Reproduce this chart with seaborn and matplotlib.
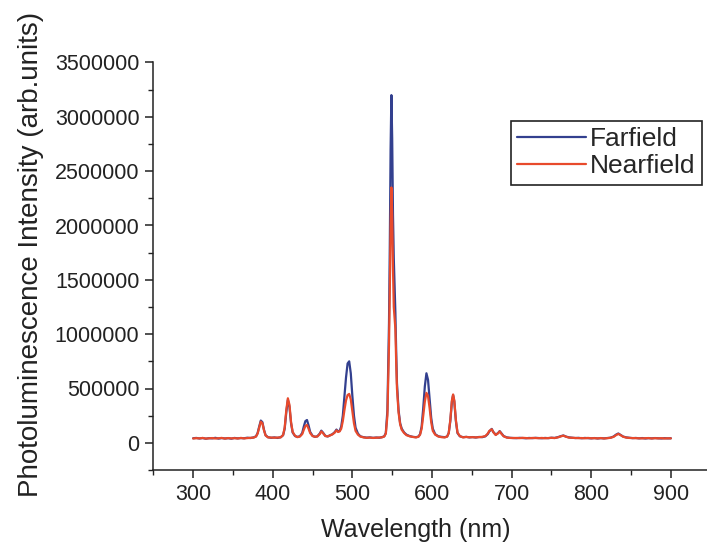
import matplotlib
matplotlib.use("Agg")
import matplotlib.pyplot as plt
import matplotlib.ticker as mticker
import pandas as pd
import seaborn as sns

# ---- data ----
wavelength = [
    300, 304, 308, 312, 316, 320, 324, 328, 332, 336, 340, 344, 348, 352, 356,
    360, 364, 368, 372, 376, 379, 381, 383, 385, 387, 389, 391, 394, 398, 402,
    406, 410, 413, 415, 417, 419, 421, 423, 425, 428, 431, 434, 437, 439, 441,
    443, 445, 447, 450, 453, 456, 459, 461, 463, 466, 469, 472, 475, 478, 480,
    482, 484, 486, 488, 490, 492, 494, 496, 498, 500, 502, 504, 507, 510, 514,
    518, 522, 526, 530, 534, 537, 540, 542, 544, 546, 547, 548, 549, 550, 551,
    552, 553, 554, 555, 556, 558, 560, 562, 565, 568, 572, 576, 580, 583, 585,
    587, 589, 591, 593, 595, 597, 599, 601, 604, 608, 612, 616, 619, 621, 623,
    625, 626.5, 628, 630, 632, 635, 639, 643, 647, 651, 655, 659, 663, 667, 670,
    672, 675, 677, 680, 683, 685, 687, 690, 694, 698, 702, 706, 710, 714, 718,
    722, 726, 730, 734, 738, 742, 746, 750, 754, 758, 762, 765, 768, 772, 776,
    780, 784, 788, 792, 796, 800, 804, 808, 812, 816, 820, 824, 828, 831, 834,
    837, 840, 844, 848, 852, 856, 860, 864, 868, 872, 876, 880, 884, 888, 892,
    896, 900,
]

farfield = [
    42000, 45000, 40000, 44000, 38000, 43000, 41000, 46000, 39000, 44000,
    40000, 43000, 38000, 45000, 41000, 44000, 42000, 47000, 44000, 50000,
    60000, 90000, 150000, 205000, 190000, 120000, 70000, 52000, 46000, 50000,
    45000, 52000, 70000, 130000, 280000, 395000, 330000, 180000, 95000, 62000,
    55000, 60000, 90000, 150000, 200000, 210000, 160000, 100000, 65000, 55000,
    60000, 85000, 112000, 95000, 65000, 58000, 70000, 80000, 100000, 122000,
    105000, 110000, 150000, 250000, 420000, 600000, 730000, 750000, 640000, 430000,
    250000, 140000, 85000, 60000, 52000, 48000, 50000, 46000, 49000, 47000,
    52000, 60000, 90000, 300000, 1100000, 1800000, 2700000, 3200000, 2800000, 2100000,
    1700000, 1450000, 1200000, 850000, 550000, 300000, 180000, 130000, 95000, 75000,
    62000, 55000, 52000, 58000, 80000, 150000, 320000, 520000, 640000, 580000,
    400000, 230000, 130000, 80000, 60000, 55000, 52000, 58000, 90000, 200000,
    380000, 440000, 380000, 200000, 90000, 60000, 52000, 55000, 50000, 53000,
    49000, 54000, 52000, 60000, 80000, 105000, 128000, 100000, 75000, 90000,
    108000, 90000, 62000, 50000, 46000, 45000, 43000, 46000, 44000, 42000,
    45000, 43000, 46000, 44000, 42000, 45000, 43000, 47000, 45000, 52000,
    62000, 68000, 58000, 50000, 47000, 44000, 46000, 42000, 45000, 43000,
    41000, 44000, 40000, 43000, 41000, 44000, 47000, 58000, 75000, 86000,
    72000, 58000, 50000, 46000, 43000, 45000, 41000, 44000, 40000, 43000,
    41000, 44000, 42000, 40000, 43000, 41000, 42000,
]

nearfield = [
    40000, 43000, 41000, 45000, 39000, 42000, 44000, 40000, 42000, 45000,
    39000, 44000, 41000, 43000, 40000, 45000, 41000, 44000, 46000, 48000,
    58000, 85000, 140000, 195000, 180000, 115000, 68000, 50000, 48000, 47000,
    49000, 50000, 72000, 140000, 300000, 410000, 350000, 190000, 100000, 65000,
    52000, 58000, 80000, 120000, 155000, 165000, 130000, 90000, 62000, 56000,
    58000, 80000, 105000, 90000, 62000, 60000, 68000, 78000, 95000, 115000,
    100000, 105000, 130000, 200000, 300000, 390000, 440000, 450000, 400000, 290000,
    180000, 110000, 75000, 58000, 50000, 46000, 48000, 45000, 47000, 48000,
    50000, 58000, 85000, 250000, 900000, 1400000, 2000000, 2350000, 2100000, 1600000,
    1250000, 1150000, 1050000, 750000, 500000, 280000, 170000, 120000, 90000, 70000,
    60000, 54000, 50000, 56000, 75000, 130000, 250000, 380000, 460000, 430000,
    320000, 190000, 110000, 75000, 58000, 52000, 50000, 57000, 90000, 210000,
    390000, 445000, 390000, 210000, 95000, 62000, 50000, 54000, 51000, 52000,
    50000, 53000, 55000, 62000, 85000, 110000, 125000, 98000, 72000, 88000,
    105000, 85000, 60000, 48000, 45000, 44000, 45000, 43000, 46000, 44000,
    42000, 45000, 44000, 43000, 45000, 42000, 44000, 46000, 44000, 50000,
    60000, 66000, 57000, 48000, 46000, 45000, 43000, 44000, 42000, 45000,
    42000, 43000, 41000, 44000, 40000, 43000, 46000, 55000, 70000, 82000,
    70000, 56000, 48000, 45000, 44000, 42000, 43000, 41000, 42000, 44000,
    40000, 43000, 41000, 43000, 40000, 42000, 41000,
]

series_names = ["Farfield", "Nearfield"]
series_colors = ["#33408f", "#e84a2c"]

x_ticks = [300, 400, 500, 600, 700, 800, 900]
y_ticks = [0, 500000, 1000000, 1500000, 2000000, 2500000, 3000000, 3500000]

# long-form table for seaborn
spectra = pd.concat(
    [
        pd.DataFrame({"wavelength": wavelength, "intensity": farfield, "series": "Farfield"}),
        pd.DataFrame({"wavelength": wavelength, "intensity": nearfield, "series": "Nearfield"}),
    ],
    ignore_index=True,
)

sns.set_style("ticks")
plt.rcParams["font.family"] = ["Liberation Sans", "DejaVu Sans"]

fig = plt.figure(figsize=(7.07, 5.52), dpi=100)
ax = fig.add_axes([153.3 / 707, 1 - 470 / 552, (710.7 - 153.3) / 707, (470 - 62.5) / 552])

sns.lineplot(
    data=spectra,
    x="wavelength",
    y="intensity",
    hue="series",
    hue_order=series_names,
    palette=dict(zip(series_names, series_colors)),
    estimator=None,
    sort=False,
    linewidth=1.6,
    ax=ax,
)

ax.set_xlim(250, 950)
ax.set_ylim(-250000, 3500000)
ax.set_xticks(x_ticks)
ax.set_yticks(y_ticks)
ax.xaxis.set_minor_locator(mticker.MultipleLocator(50))
ax.yaxis.set_minor_locator(mticker.MultipleLocator(250000))
ax.ticklabel_format(style="plain", axis="y", useOffset=False)

ax.tick_params(axis="both", which="major", direction="out", length=6,
               width=1.1, labelsize=15.5, colors="#222222", pad=4)
ax.tick_params(axis="both", which="minor", direction="out", length=3.5,
               width=1.0, colors="#222222")
for side in ["left", "bottom"]:
    ax.spines[side].set_linewidth(1.1)
    ax.spines[side].set_color("#222222")
sns.despine(ax=ax, top=True, right=True)

ax.set_xlabel("Wavelength (nm)", fontsize=18, color="#222222")
ax.set_ylabel("Photoluminescence Intensity (arb.units)", fontsize=20,
              color="#222222")
ax.xaxis.set_label_coords(0.47, -0.118)
ax.yaxis.set_label_coords(-0.196, 0.53)

legend = ax.legend(
    loc="upper right",
    bbox_to_anchor=(0.984, 0.857),
    borderaxespad=0,
    fontsize=19,
    handlelength=2.6,
    handletextpad=0.15,
    labelspacing=0.1,
    borderpad=0.25,
    fancybox=False,
    framealpha=1,
    edgecolor="#222222",
)
legend.get_frame().set_linewidth(1.2)
for line in legend.get_lines():
    line.set_linewidth(1.6)

fig.savefig("out.png", dpi=100)
plt.close(fig)
